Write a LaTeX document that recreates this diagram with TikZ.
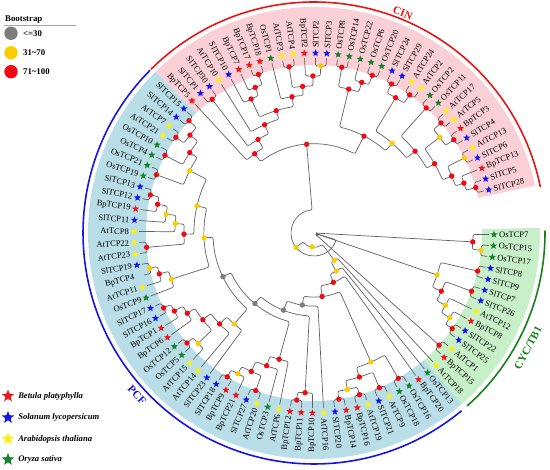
\documentclass[tikz,border=0pt]{standalone}
\usepackage{fontspec}
\setmainfont{Liberation Serif}
\usepackage{xcolor}
\usepackage{tikz}
\usetikzlibrary{shapes.geometric}
\usetikzlibrary{positioning}

\definecolor{spbp}{RGB}{240,20,30}
\definecolor{spsl}{RGB}{20,20,240}
\definecolor{spat}{RGB}{250,240,20}
\definecolor{spos}{RGB}{20,130,40}
\definecolor{bsred}{RGB}{240,10,20}
\definecolor{bsyel}{RGB}{250,205,0}
\definecolor{bsgrey}{RGB}{125,125,125}
\definecolor{cinband}{RGB}{250,208,214}
\definecolor{cycband}{RGB}{200,240,200}
\definecolor{pcfband}{RGB}{186,222,232}
\definecolor{cinred}{RGB}{235,20,20}
\definecolor{cycgreen}{RGB}{20,130,20}
\definecolor{pcfblue}{RGB}{20,20,230}

\pgfdeclarelayer{dots}
\pgfsetlayers{main,dots}

% one clade: key, radius, first child, second child, bootstrap colour
\newcommand\clade[5]{%
  \edef\tAngA{\csname ta@#3\endcsname}%
  \edef\tRadA{\csname tr@#3\endcsname}%
  \edef\tAngB{\csname ta@#4\endcsname}%
  \edef\tRadB{\csname tr@#4\endcsname}%
  \pgfmathsetmacro\tAngM{(\tAngA+\tAngB)/2}%
  \expandafter\xdef\csname ta@#1\endcsname{\tAngM}%
  \expandafter\xdef\csname tr@#1\endcsname{#2}%
  \draw[branch] (\tAngA:\tRadA pt) -- (\tAngA:#2pt)
    arc[start angle=\tAngA, end angle=\tAngB, radius=#2pt] -- (\tAngB:\tRadB pt);%
  \ifx\relax#5\relax\else
    \begin{pgfonlayer}{dots}\fill[#5] (\tAngM:#2pt) circle[radius=2.7pt];\end{pgfonlayer}%
  \fi}

\begin{document}
\begin{tikzpicture}[x=1pt, y=1pt,
  branch/.style={draw=black!62, line width=0.7pt, rounded corners=2pt},
  leafstar/.style={star, star points=5, star point ratio=2.3, minimum size=7.5pt, inner sep=0pt},
  sp bp/.style={fill=spbp}, sp sl/.style={fill=spsl},
  sp at/.style={fill=spat}, sp os/.style={fill=spos}, sp nil/.style={},
  leaflab/.style={font=\fontsize{8.5}{9}\selectfont, inner sep=0pt},
  cladearc/.style={line width=1.6pt},
  cladelab/.style={font=\fontsize{11}{12}\selectfont\bfseries, inner sep=0pt},
  legtext/.style={font=\fontsize{8.8}{9}\selectfont\bfseries, inner sep=0pt},
  spname/.style={font=\fontsize{8.6}{9}\selectfont\bfseries\itshape, inner sep=0pt}]

\useasboundingbox (0,0) rectangle (550,470);

\begin{scope}[shift={(314,237)}]
% clade bands
\fill[cinband] (134.5:168pt) arc[start angle=134.5, end angle=12.1, radius=168pt]
  -- (12.1:226pt) arc[start angle=12.1, end angle=134.5, radius=226pt] -- cycle;
\fill[cycband] (1.3:168pt) arc[start angle=1.3, end angle=-49.1, radius=168pt]
  -- (-49.1:226pt) arc[start angle=-49.1, end angle=1.3, radius=226pt] -- cycle;
\fill[pcfband] (-49.1:168pt) arc[start angle=-49.1, end angle=-225.5, radius=168pt]
  -- (-225.5:226pt) arc[start angle=-225.5, end angle=-49.1, radius=226pt] -- cycle;

% leaves
\foreach \lab/\spc [count=\i] in {OsTCP7/os, OsTCP15/os, OsTCP17/os, SlTCP8/sl, SlTCP9/sl,
  SlTCP7/sl, SlTCP26/sl, AtTCP12/at, BpTCP8/bp, SlTCP22/sl, SlTCP25/sl, AtTCP1/at,
  BpTCP15/bp, AtTCP18/at, OsTCP13/os, BpTCP20/bp, OsTCP16/os, OsTCP18/os, AtTCP9/at,
  SlTCP21/sl, AtTCP19/at, BpTCP16/bp, BpTCP14/bp, SlTCP20/sl, AtTCP16/at, BpTCP10/bp,
  BpTCP11/bp, BpTCP12/bp, AtTCP6/at, OsTCP3/os, AtTCP20/at, SlTCP27/sl, BpTCP21/bp,
  BpTCP9/bp, SlTCP18/sl, SlTCP23/sl, AtTCP14/at, AtTCP15/at, OsTCP5/os, OsTCP12/os,
  BpTCP6/bp, BpTCP1/bp, SlTCP16/sl, SlTCP17/sl, OsTCP9/os, AtTCP11/at, BpTCP4/nil,
  SlTCP19/sl, AtTCP23/at, AtTCP22/at, AtTCP8/at, SlTCP11/sl, BpTCP19/bp, SlTCP12/sl,
  SlTCP13/sl, OsTCP19/os, OsTCP21/os, OsTCP4/os, OsTCP10/os, AtTCP21/at, AtTCP7/at,
  SlTCP14/sl, SlTCP15/sl, BpTCP5/bp, SlTCP1/sl, SlTCP30/sl, AtTCP10/at, SlTCP10/sl,
  BpTCP7/bp, BpTCP17/bp, BpTCP18/bp, OsTCP1/os, AtTCP3/at, AtTCP4/at, BpTCP2/bp,
  SlTCP2/sl, SlTCP3/sl, OsTCP8/os, OsTCP14/os, OsTCP22/os, OsTCP6/os, OsTCP20/os,
  SlTCP24/sl, SlTCP29/sl, AtTCP24/at, AtTCP2/at, OsTCP2/os, OsTCP11/os, AtTCP17/at,
  AtTCP5/at, BpTCP3/bp, SlTCP4/sl, AtTCP13/at, SlTCP6/sl, BpTCP13/bp, SlTCP5/sl,
  SlTCP28/sl} {
  \pgfmathsetmacro\ang{-0.5-3.6*(\i-1)}
  \pgfmathtruncatemacro\flip{and(\ang<-90,\ang>-270)}
  \ifnum\flip=1 \def\rot{\ang+180}\def\anc{east}\else\def\rot{\ang}\def\anc{west}\fi
  \expandafter\xdef\csname ta@\i\endcsname{\ang}
  \expandafter\xdef\csname tr@\i\endcsname{175}
  \node[leafstar, sp \spc] (s\i) at (\ang:180pt) {};
  \node[leaflab, rotate=\rot, anchor=\anc] (t\i) at (\ang:185pt) {\lab};
}

% CYC/TB1
\clade{c23}{168}{2}{3}{bsyel}
\clade{c1x3}{159}{1}{c23}{bsred}
\clade{c45}{168}{4}{5}{bsred}
\clade{c67}{168}{6}{7}{bsred}
\clade{c1011}{168}{10}{11}{bsred}
\clade{c9x11}{160}{9}{c1011}{bsyel}
\clade{c8x11}{150}{8}{c9x11}{bsyel}
\clade{c6x11}{140}{c67}{c8x11}{bsred}
\clade{c4x11}{130}{c45}{c6x11}{bsyel}
\clade{c1213}{168}{12}{13}{bsred}
\clade{c4x13}{3}{c4x11}{c1213}{}
\clade{cyc}{2}{c1x3}{c4x13}{}

% PCF
\clade{c1718}{168}{17}{18}{bsred}
\clade{c1920}{168}{19}{20}{bsred}
\clade{c2122}{168}{21}{22}{bsred}
\clade{c2324}{168}{23}{24}{bsred}
\clade{c21x24}{160}{c2122}{c2324}{bsyel}
\clade{c19x24}{151}{c1920}{c21x24}{bsred}
\clade{c17x24}{141}{c1718}{c19x24}{bsyel}
\clade{c2728}{168}{27}{28}{bsred}
\clade{c26x28}{160}{26}{c2728}{bsred}
\clade{c3132}{168}{31}{32}{bsred}
\clade{c3435}{168}{34}{35}{bsred}
\clade{c33x35}{160}{33}{c3435}{bsyel}
\clade{c31x35}{152}{c3132}{c33x35}{bsred}
\clade{c30x35}{141}{30}{c31x35}{bsred}
\clade{c29x35}{131}{29}{c30x35}{bsred}
\clade{c3940}{168}{39}{40}{bsred}
\clade{c38x40}{160}{38}{c3940}{bsyel}
\clade{c4344}{168}{43}{44}{bsred}
\clade{c42x44}{160}{42}{c4344}{bsred}
\clade{c41x44}{150}{41}{c42x44}{bsred}
\clade{c38x44}{141}{c38x40}{c41x44}{bsred}
\clade{c37x44}{131}{37}{c38x44}{bsred}
\clade{c36x44}{121}{36}{c37x44}{bsyel}
\clade{c4748}{168}{47}{48}{bsyel}
\clade{c46x48}{160}{46}{c4748}{bsred}
\clade{c45x48}{150}{45}{c46x48}{bsyel}
\clade{c4950}{168}{49}{50}{bsred}
\clade{c5455}{168}{54}{55}{bsred}
\clade{c53x55}{159}{53}{c5455}{bsred}
\clade{c52x55}{149}{52}{c53x55}{bsyel}
\clade{c51x55}{139}{51}{c52x55}{bsyel}
\clade{c49x55}{130}{c4950}{c51x55}{bsred}
\clade{c5657}{168}{56}{57}{bsred}
\clade{c5859}{168}{58}{59}{bsred}
\clade{c6061}{168}{60}{61}{bsred}
\clade{c6263}{168}{62}{63}{bsred}
\clade{c60x63}{158}{c6061}{c6263}{bsred}
\clade{c58x63}{148}{c5859}{c60x63}{bsred}
\clade{c56x63}{139}{c5657}{c58x63}{bsyel}
\clade{c49x63}{120}{c49x55}{c56x63}{bsyel}
\clade{c45x63}{110}{c45x48}{c49x63}{bsyel}
\clade{c36x63}{101}{c36x44}{c45x63}{bsgrey}
\clade{c29x63}{92}{c29x35}{c36x63}{bsgrey}
\clade{c26x63}{83}{c26x28}{c29x63}{bsgrey}
\clade{c25x63}{73}{25}{c26x63}{bsgrey}
\clade{c17x63}{64}{c17x24}{c25x63}{bsred}
\clade{c16x63}{53}{16}{c17x63}{bsred}
\clade{c15x63}{44}{15}{c16x63}{bsyel}
\clade{pcf}{34}{14}{c15x63}{bsyel}

% CIN
\clade{c6566}{168}{65}{66}{bsred}
\clade{c7071}{168}{70}{71}{bsred}
\clade{c69x71}{157}{69}{c7071}{bsred}
\clade{c68x71}{148}{68}{c69x71}{bsred}
\clade{c7374}{168}{73}{74}{bsred}
\clade{c7677}{167}{76}{77}{bsyel}
\clade{c75x77}{157}{75}{c7677}{bsred}
\clade{c73x77}{147}{c7374}{c75x77}{bsred}
\clade{c72x77}{138}{72}{c73x77}{bsred}
\clade{c68x77}{128}{c68x71}{c72x77}{bsred}
\clade{c67x77}{119}{67}{c68x77}{bsred}
\clade{c65x77}{109}{c6566}{c67x77}{bsred}
\clade{c64x77}{99}{64}{c65x77}{bsred}
\clade{c7879}{168}{78}{79}{bsred}
\clade{c8182}{168}{81}{82}{bsred}
\clade{c80x82}{158}{80}{c8182}{bsred}
\clade{c78x82}{148}{c7879}{c80x82}{bsred}
\clade{c8384}{168}{83}{84}{bsred}
\clade{c8586}{168}{85}{86}{bsred}
\clade{c83x86}{158}{c8384}{c8586}{bsred}
\clade{c8788}{168}{87}{88}{bsred}
\clade{c8990}{168}{89}{90}{bsred}
\clade{c9192}{168}{91}{92}{bsred}
\clade{c89x92}{158}{c8990}{c9192}{bsyel}
\clade{c9394}{168}{93}{94}{bsyel}
\clade{c9697}{168}{96}{97}{bsred}
\clade{c95x97}{158}{95}{c9697}{bsred}
\clade{c93x97}{149}{c9394}{c95x97}{bsred}
\clade{c89x97}{139}{c89x92}{c93x97}{bsred}
\clade{c87x97}{130}{c8788}{c89x97}{bsred}
\clade{c83x97}{119}{c83x86}{c87x97}{bsyel}
\clade{c78x97}{109}{c78x82}{c83x97}{bsred}
\clade{cin}{89}{c64x77}{c78x97}{bsred}

% root
\clade{class2}{23}{cin}{cyc}{bsyel}
\clade{root}{14}{class2}{pcf}{bsyel}

% clade arcs and names
\draw[cladearc, cinred] (134.9:231pt) arc[start angle=134.9, end angle=11.5, radius=231pt];
\draw[cladearc, cycgreen] (0.6:231pt) arc[start angle=0.6, end angle=-48.5, radius=231pt];
\draw[cladearc, pcfblue] (-50.3:231pt) arc[start angle=-50.3, end angle=-224.8, radius=231pt];
\node[cladelab, text=cinred, rotate=-22] (cinlab) at (68:237pt) {CIN};
\node[cladelab, text=cycgreen, rotate=62] (cyclab) at (-28.3:243pt) {CYC/TB1};
\node[cladelab, text=pcfblue, rotate=-47] (pcflab) at (-137.5:240pt) {PCF};
\end{scope}

% bootstrap legend
\node[legtext, anchor=base west] (bstitle) at (5,448) {Bootstrap};
\draw[black!35, line width=0.5pt] (4,445) -- (76,445);
\node[circle, fill=bsgrey, minimum size=13.4pt, inner sep=0pt] (lg1) at (11,436.7) {};
\node[circle, fill=bsyel, minimum size=13.4pt, inner sep=0pt] (lg2) at (11,417.3) {};
\node[circle, fill=bsred, minimum size=13.4pt, inner sep=0pt] (lg3) at (11,398.3) {};
\node[legtext, right=5pt of lg1] (lg1t) {<=30};
\node[legtext, right=5pt of lg2] (lg2t) {31\textasciitilde70};
\node[legtext, right=5pt of lg3] (lg3t) {71\textasciitilde100};

% species legend
\node[leafstar, sp bp, minimum size=13pt] (lgbp) at (8,74) {};
\node[leafstar, sp sl, minimum size=13pt] (lgsl) at (8,52.5) {};
\node[leafstar, sp at, minimum size=13pt] (lgat) at (8,31) {};
\node[leafstar, sp os, minimum size=13pt] (lgos) at (8,10.5) {};
\node[spname, right=6pt of lgbp] (lgbpt) {Betula platyphylla};
\node[spname, right=6pt of lgsl] (lgslt) {Solanum lycopersicum};
\node[spname, right=6pt of lgat] (lgatt) {Arabidopsis thaliana};
\node[spname, right=6pt of lgos] (lgost) {Oryza sativa};

\end{tikzpicture}
\end{document}
